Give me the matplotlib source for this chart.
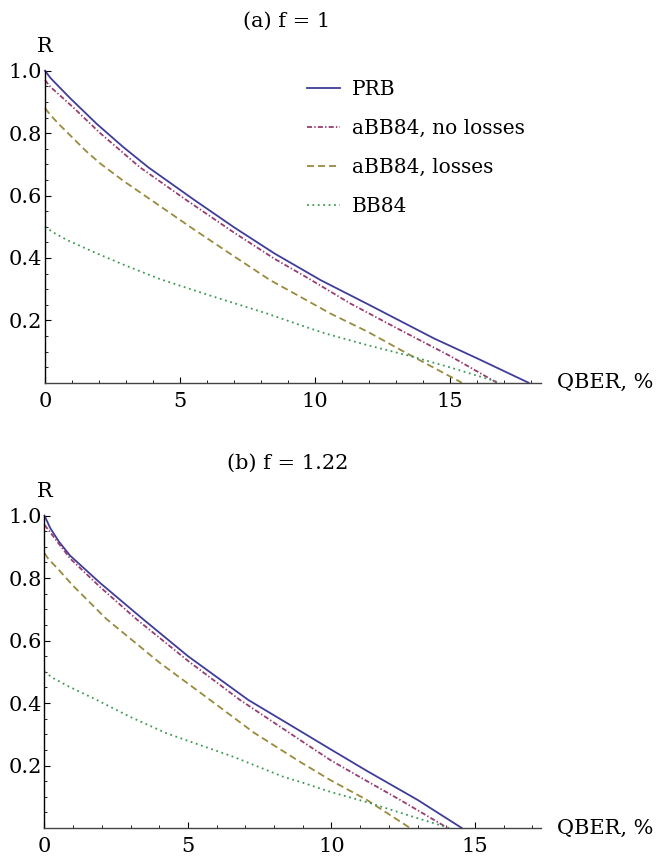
import matplotlib.pyplot as plt
from matplotlib.ticker import MultipleLocator

plt.rcParams["font.family"] = "DejaVu Serif"

# ---- panel (a), f = 1 ----
a_prb_x = [0, 0.2, 0.5, 0.93, 1.91, 2.9, 3.83, 5.49, 7.0, 8.5, 10.2, 11.9, 14.4, 16.0, 17.9]
a_prb_y = [1.0, 0.977, 0.95, 0.912, 0.83, 0.755, 0.69, 0.588, 0.498, 0.414, 0.329, 0.254, 0.142, 0.078, 0.0]
a_nol_x = [0, 0.2, 0.5, 1.05, 2.04, 3.52, 5.19, 7.0, 8.5, 9.8, 11.3, 13.15, 15.0, 16.73]
a_nol_y = [0.97, 0.948, 0.925, 0.882, 0.80, 0.69, 0.588, 0.481, 0.397, 0.332, 0.254, 0.169, 0.0856, 0.0]
a_los_x = [0, 0.2, 0.5, 1.0, 1.5, 2.04, 2.9, 3.89, 5.5, 7.0, 8.33, 9.44, 10.56, 11.91, 13.4, 15.43]
a_los_y = [0.88, 0.858, 0.83, 0.787, 0.744, 0.703, 0.647, 0.588, 0.492, 0.405, 0.329, 0.276, 0.222, 0.165, 0.094, 0.0]
a_bb_x = [0, 0.3, 0.8, 1.9, 3.0, 4.26, 6.23, 8.21, 9.44, 10.37, 11.91, 13.52, 15.0, 16.85]
a_bb_y = [0.5, 0.482, 0.458, 0.415, 0.375, 0.332, 0.276, 0.222, 0.185, 0.158, 0.121, 0.0856, 0.049, 0.0]

# ---- panel (b), f = 1.22 ----
b_prb_x = [0, 0.2, 0.5, 0.89, 1.93, 3.44, 5.0, 7.1, 8.9, 9.95, 11.23, 13.0, 14.54]
b_prb_y = [1.0, 0.96, 0.917, 0.872, 0.785, 0.668, 0.55, 0.41, 0.311, 0.253, 0.183, 0.09, 0.0]
b_nol_x = [0, 0.13, 0.5, 0.9, 1.93, 3.21, 5.0, 6.81, 8.9, 9.95, 11.2, 12.39, 14.05]
b_nol_y = [0.97, 0.955, 0.91, 0.862, 0.772, 0.668, 0.535, 0.41, 0.282, 0.218, 0.152, 0.09, 0.0]
b_los_x = [0, 0.13, 0.5, 1.0, 2.17, 4.0, 5.77, 7.3, 8.9, 9.95, 11.23, 12.74]
b_los_y = [0.88, 0.862, 0.826, 0.775, 0.668, 0.53, 0.41, 0.305, 0.212, 0.154, 0.09, 0.0]
b_bb_x = [0, 0.3, 0.8, 1.82, 3.0, 4.26, 6.58, 8.32, 8.9, 9.95, 11.37, 12.7, 14.1]
b_bb_y = [0.5, 0.48, 0.455, 0.41, 0.355, 0.303, 0.228, 0.164, 0.148, 0.116, 0.079, 0.04, 0.0]

labels = ["PRB", "aBB84, no losses", "aBB84, losses", "BB84"]
colors = ["#3f3d99", "#993d71", "#998b3d", "#3d9956"]
styles = ["-", (0, (2.8, 1.2, 0.8, 1.2)), (0, (3.9, 2.2)), (0, (1.0, 2.0))]

fig = plt.figure(figsize=(6.56, 8.56), dpi=100)
ax1 = fig.add_axes([0.0686, 0.5529, 0.7556, 0.3645])
ax2 = fig.add_axes([0.0678, 0.0327, 0.7569, 0.3650])

panels = [
    (ax1, [(a_prb_x, a_prb_y), (a_nol_x, a_nol_y), (a_los_x, a_los_y), (a_bb_x, a_bb_y)], 18.35, "(a) f = 1", 0.4876, 1.157),
    (ax2, [(b_prb_x, b_prb_y), (b_nol_x, b_nol_y), (b_los_x, b_los_y), (b_bb_x, b_bb_y)], 17.3, "(b) f = 1.22", 0.489, 1.168),
]

for ax, series, xmax, title, tx, ty in panels:
    for (xs, ys), lab, c, ls in zip(series, labels, colors, styles):
        ax.plot(xs, ys, color=c, linestyle=ls, linewidth=1.3, label=lab, clip_on=False)
    ax.set_xlim(0, xmax)
    ax.set_ylim(0, 1.0)
    ax.spines["top"].set_visible(False)
    ax.spines["right"].set_visible(False)
    ax.spines["left"].set_linewidth(1.0)
    ax.spines["bottom"].set_linewidth(1.0)
    ax.spines["bottom"].set_color("#444444")
    ax.xaxis.set_major_locator(MultipleLocator(5))
    ax.xaxis.set_minor_locator(MultipleLocator(1))
    ax.set_yticks([0.2, 0.4, 0.6, 0.8, 1.0])
    ax.yaxis.set_minor_locator(MultipleLocator(0.05))
    ax.tick_params(which="both", direction="in", labelsize=15)
    ax.tick_params(which="major", length=4.5, width=0.8)
    ax.tick_params(which="minor", length=2.5, width=0.6)
    ax.tick_params(axis="x", pad=6.5)
    ax.tick_params(axis="y", pad=2)
    ax.set_xticklabels([str(int(t)) for t in ax.get_xticks()])
    ax.set_yticklabels(["%.1f" % t for t in ax.get_yticks()])
    ax.text(0, 1.076, "R", transform=ax.transAxes, ha="center", va="center", fontsize=15)
    ax.text(1.033, 0.0, "QBER, %", transform=ax.transAxes, ha="left", va="center", fontsize=15)
    ax.text(tx, ty, title, transform=ax.transAxes, ha="center", va="center", fontsize=15)

ax1.legend(loc="upper left", bbox_to_anchor=(0.468, 0.906), bbox_transform=fig.transFigure,
           frameon=False, fontsize=14.5, handlelength=1.65, handletextpad=0.58,
           labelspacing=0.98, borderpad=0, borderaxespad=0)

fig.savefig("out.png", dpi=100)
